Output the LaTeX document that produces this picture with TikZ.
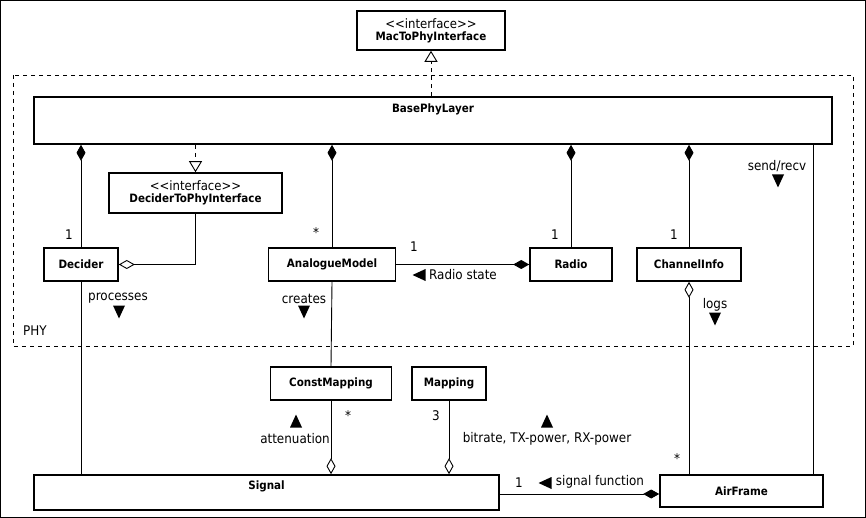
\documentclass[tikz,border=0pt]{standalone}
\usepackage{fontspec}
\setmainfont{DejaVu Sans Condensed}
\usetikzlibrary{arrows.meta}
\newcommand{\fs}{\fontsize{13.3}{15}\selectfont}
\newcommand{\fb}{\fontsize{11.5}{13}\selectfont\bfseries}
\newcommand{\stereo}{{\mdseries\fontsize{13}{14}\selectfont <{}<interface>{}>}}

\tikzset{
  cls/.style={draw, line width=1.6pt, inner sep=0pt, align=center, font=\fb},
  conn/.style={line width=0.9pt},
  comp/.style={conn, -{Diamond[length=16pt,width=9pt]}},
  agg/.style={conn, -{Diamond[open,length=16pt,width=9pt]}},
  real/.style={conn, dash pattern=on 4pt off 4pt, -{Triangle[open,length=11pt,width=13pt]}},
  dirtri/.pic={\fill (-6,-6.5) -- (6,-6.5) -- (0,6.5) -- cycle;},
}

\begin{document}
\begin{tikzpicture}[x=1pt, y=-1pt, every node/.style={font=\fs}]
    \useasboundingbox (0,0) rectangle (866,518);
    \draw[line width=1pt] (0.5,0.5) rectangle (865.5,517.5);
    % PHY package
    \draw[conn, dash pattern=on 4pt off 4pt] (13,75) rectangle (853,346);
    \node (phy) at (35,331) {PHY};

    % classes
    \node[cls, minimum width=148pt, minimum height=39pt] (mac) at (431,30.5) {\stereo\\[-1pt]MacToPhyInterface};
    \node[cls, minimum width=798pt, minimum height=47pt,
      label={[anchor=center, yshift=-13pt, font=\fb]north:BasePhyLayer}] (base) at (433,120.5) {};
    \node[cls, minimum width=173pt, minimum height=40pt] (dtp) at (195.5,193) {\stereo\\[-1pt]DeciderToPhyInterface};
    \node[cls, minimum width=74pt, minimum height=33pt] (dec) at (81,264.5) {Decider};
    \node[cls, minimum width=127pt, minimum height=33pt] (ana) at (332,264.5) {AnalogueModel};
    \node[cls, minimum width=82pt, minimum height=33pt] (radio) at (571,264.5) {Radio};
    \node[cls, minimum width=104pt, minimum height=33pt] (chan) at (689,264.5) {ChannelInfo};
    \node[cls, minimum width=121pt, minimum height=33pt] (cmap) at (331,383.5) {ConstMapping};
    \node[cls, minimum width=74pt, minimum height=33pt] (map) at (449,383.5) {Mapping};
    \node[cls, minimum width=465pt, minimum height=35pt,
      label={[anchor=center, yshift=-12pt, font=\fb]north:Signal}] (sig) at (266.5,492.5) {};
    \node[cls, minimum width=163pt, minimum height=32pt] (air) at (741.5,491) {AirFrame};

    % realizations
    \draw[real] (mac.south |- base.north) -- (mac.south);
    \draw[real] (dtp.north |- base.south) -- (dtp.north);

    % compositions of BasePhyLayer
    \draw[comp] (dec.north) -- (dec.north |- base.south);
    \draw[comp] (ana.north) -- (ana.north |- base.south);
    \draw[comp] (radio.north) -- (radio.north |- base.south);
    \draw[comp] (chan.north) -- (chan.north |- base.south);
    \node (m1) at (69,235) {1};
    \node (m2) at (316,233) {*};
    \node (m3) at (555,235) {1};
    \node (m4) at (674,235) {1};

    % inside PHY
    \draw[agg] (dtp.south) |- (dec.east);
    \draw[comp] (ana.east) -- (radio.west);
    \node (m5) at (414,247) {1};
    \node (rs) at (463,275) {Radio state};
    \pic[rotate=-90] at (419,275) {dirtri};

    % send/recv
    \coordinate (sr) at (813,144);
    \draw[conn] (sr) -- (sr |- air.north);
    \node (srl) at (777,166) {send/recv};
    \pic at (778,181) {dirtri};

    % to Signal and AirFrame
    \draw[conn] (dec.south) -- (dec.south |- sig.north);
    \node (proc) at (118,298) {processes};
    \pic at (119,312) {dirtri};
    \draw[conn] (ana.south) -- (cmap.north);
    \node (cre) at (304,299) {creates};
    \pic at (304,312) {dirtri};
    \draw[agg] (chan.south |- air.north) -- (chan.south);
    \node (logs) at (715,305) {logs};
    \pic at (715,319) {dirtri};
    \node (m6) at (677,459) {*};

    \draw[agg] (cmap.south) -- (cmap.south |- sig.north);
    \draw[agg] (map.south) -- (map.south |- sig.north);
    \node (m7) at (348,416) {*};
    \node (m8) at (436,416) {3};
    \node (att) at (295,439) {attenuation};
    \pic[rotate=180] at (296,421) {dirtri};
    \node (bit) at (547,439) {bitrate, TX-power, RX-power};
    \pic[rotate=180] at (547,421) {dirtri};

    \draw[comp] (sig.east |- 0,494) -- (air.west |- 0,494);
    \node (m9) at (519,483) {1};
    \node (sf) at (600,482) {signal function};
    \pic[rotate=-90] at (545,483) {dirtri};
\end{tikzpicture}
\end{document}
